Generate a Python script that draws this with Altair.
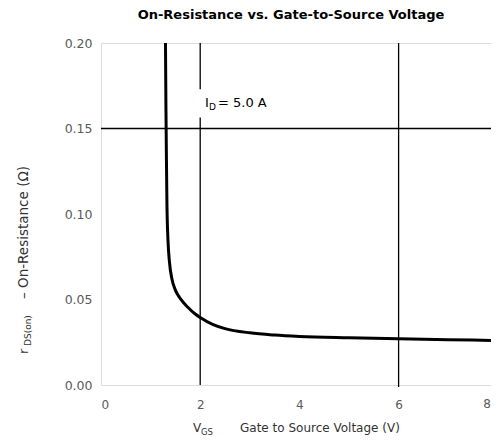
import altair as alt
import pandas as pd

vgs = [1.30, 1.31, 1.32, 1.33, 1.35, 1.38, 1.43, 1.50, 1.60, 1.75, 1.90, 2.00, 2.25, 2.50, 3.00, 3.50, 4.00, 5.00, 6.00, 7.00, 8.00]
rds = [0.200, 0.160, 0.130, 0.105, 0.085, 0.072, 0.062, 0.0555, 0.0505, 0.0455, 0.0415, 0.0395, 0.0355, 0.0330, 0.0305, 0.0292, 0.0284, 0.0276, 0.0270, 0.0265, 0.0260]

x_ticks = [0, 2, 4, 6]
x_last = [8]
y_ticks = [0.00, 0.05, 0.10, 0.15, 0.20]
grid_x = [6]
grid_y = [0.15]
# vertical grid at 2 V is broken around the annotation
split_x = [2, 2]
split_y1 = [0.20, 0.1565]
split_y2 = [0.1730, 0.0]

W, H = 390, 342
X_MAX = W / 49.6  # keep the reference's pixels-per-volt; the 8 V edge falls at the page edge

df = pd.DataFrame({"vgs": vgs, "rds": rds})
xs = alt.Scale(domain=[0, X_MAX], nice=False)
ys = alt.Scale(domain=[0, 0.20], nice=False)

label_color = "#5a5a5a"
FONT = "DejaVu Sans"

base_x = alt.X("vgs:Q", scale=xs,
               axis=alt.Axis(values=x_ticks, format="d", domain=False, ticks=False, grid=False,
                             labelPadding=14, labelFontSize=12, labelColor=label_color,
                             labelFont=FONT, title=None))
base_y = alt.Y("rds:Q", scale=ys,
               axis=alt.Axis(values=y_ticks, format=".2f", domain=False, ticks=False, grid=False,
                             labelPadding=9, labelFontSize=12.5, labelColor=label_color,
                             labelFont=FONT, title=None))

curve = alt.Chart(df).mark_line(color="black", strokeWidth=3, interpolate="monotone", clip=True).encode(
    x=base_x, y=base_y)

vx = alt.Chart(pd.DataFrame({"v": grid_x})).mark_rule(color="black", strokeWidth=1.3).encode(
    x=alt.X("v:Q", scale=xs), y=alt.value(0), y2=alt.value(H + 2))
hy = alt.Chart(pd.DataFrame({"r": grid_y})).mark_rule(color="black", strokeWidth=1.3).encode(
    y=alt.Y("r:Q", scale=ys), x=alt.value(0), x2=alt.value(W))
sx = alt.Chart(pd.DataFrame({"v": split_x, "a": split_y1, "b": split_y2})).mark_rule(
    color="black", strokeWidth=1.3).encode(
    x=alt.X("v:Q", scale=xs), y=alt.Y("a:Q", scale=ys), y2="b:Q")

last_lbl = alt.Chart(pd.DataFrame({"v": x_last})).mark_text(
    font=FONT, fontSize=12, color=label_color, align="right", baseline="top").encode(
    text=alt.Text("v:Q", format="d"), x=alt.value(W), y=alt.value(H + 14))

def txt(s, x, y, size=11, angle=0, align="left", bold=False, color="black", baseline="middle"):
    return alt.Chart(pd.DataFrame({"t": [s]})).mark_text(
        font=FONT, fontSize=size, angle=angle, align=align, baseline=baseline,
        fontWeight="bold" if bold else "normal", color=color).encode(
        text="t:N", x=alt.value(x), y=alt.value(y))

tc = "#333333"
annots = [
    txt("On-Resistance vs. Gate-to-Source Voltage", 190, -28, size=13, align="center", bold=True),
    # I_D = 5.0 A
    txt("I", 104, 60, size=13),
    txt("D", 108, 64, size=9),
    txt("= 5.0 A", 117, 60, size=13),
    # x title
    txt("V", 92, 385, size=12, color=tc),
    txt("GS", 100, 389, size=8.5, color=tc),
    txt("Gate to Source Voltage (V)", 139, 385, size=12, color=tc),
    # y title (rotated)
    txt("r", -77, 311, size=13, angle=270, color=tc),
    txt("DS(on)", -73, 303, size=9, angle=270, color=tc),
    txt("–  On-Resistance (Ω)", -77, 256, size=13.5, angle=270, color=tc),
]

chart = alt.layer(hy, vx, sx, curve, last_lbl, *annots).properties(
    width=W, height=H,
    autosize=alt.AutoSizeParams(type="none"),
    padding={"left": 93, "top": 35, "right": 0, "bottom": 54},
).configure_view(stroke=None).configure(background="white")

chart.save("out.html", embed_options={"renderer": "svg", "actions": False})
